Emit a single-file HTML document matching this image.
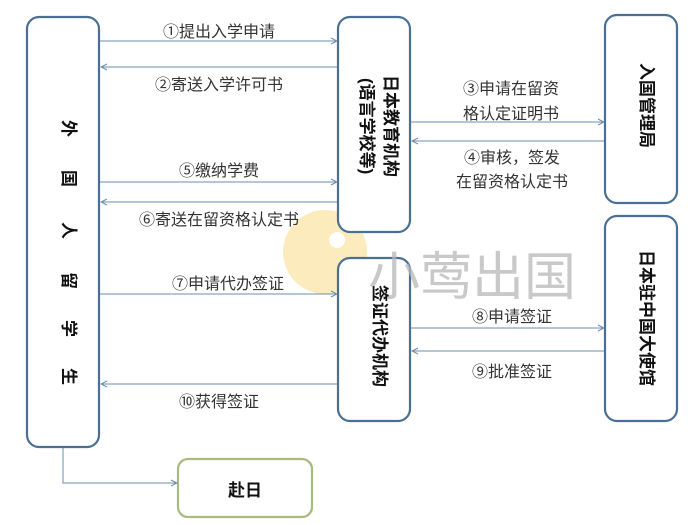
<!DOCTYPE html>
<html><head><meta charset="utf-8"><style>
body{margin:0;background:#fff;}
svg{display:block;}
text{font-family:"Liberation Sans","Noto Sans CJK SC",sans-serif;}
.lb{font-size:16px;fill:#333;text-anchor:middle;}
.bx{fill:#fff;stroke:#4a6f94;stroke-width:2.2;}
.ln{stroke:#6b8cae;stroke-width:1;fill:none;}
.vt{font-size:17px;font-weight:bold;fill:#111;writing-mode:vertical-rl;text-orientation:sideways;}
</style></head><body>
<svg width="699" height="525" viewBox="0 0 699 525">
<defs><marker id="a" markerWidth="8" markerHeight="8" refX="7" refY="4" orient="auto" markerUnits="userSpaceOnUse"><path d="M1,1 L7,4 L1,7" fill="none" stroke="#6b8cae" stroke-width="1"/></marker></defs>
<!-- watermark circle -->
<circle cx="325" cy="252" r="42" fill="#fbe7b0" opacity="0.85"/>
<circle cx="337" cy="240" r="8" fill="#fff"/>
<!-- boxes -->
<rect class="bx" x="27" y="17" width="72" height="430" rx="12"/>
<rect class="bx" x="338" y="17" width="72" height="215" rx="12"/>
<rect class="bx" x="605" y="15" width="72" height="188" rx="12"/>
<rect class="bx" x="338" y="258" width="72" height="163" rx="12"/>
<rect class="bx" x="605" y="216" width="72" height="205" rx="12"/>
<rect x="178" y="459" width="134" height="58" rx="10" fill="#fff" stroke="#a9ba7c" stroke-width="2.2"/>
<!-- watermark text -->
<text x="472" y="295" font-size="52" fill="#b8b8b8" text-anchor="middle" opacity="0.75">小莺出国</text>
<!-- box texts -->
<text x="63" y="120" class="vt">外</text>
<text x="63" y="170" class="vt">国</text>
<text x="63" y="222" class="vt">人</text>
<text x="63" y="272" class="vt">留</text>
<text x="63" y="320" class="vt">学</text>
<text x="63" y="368" class="vt">生</text>
<text x="385" y="75" class="vt">日本教育机构</text>
<text x="361" y="78" class="vt">(语言学校等)</text>
<text x="641" y="63" class="vt">入国管理局</text>
<text x="374" y="285" class="vt">签证代办机构</text>
<text x="641" y="250" class="vt">日本驻中国大使馆</text>
<text x="245" y="496" font-size="17" font-weight="bold" text-anchor="middle" fill="#111">赴日</text>
<!-- arrows -->
<line class="ln" x1="100" y1="41" x2="337" y2="41" marker-end="url(#a)"/>
<line class="ln" x1="337" y1="67" x2="101" y2="67" marker-end="url(#a)"/>
<line class="ln" x1="100" y1="182" x2="337" y2="182" marker-end="url(#a)"/>
<line class="ln" x1="337" y1="202" x2="101" y2="202" marker-end="url(#a)"/>
<line class="ln" x1="100" y1="294" x2="337" y2="294" marker-end="url(#a)"/>
<line class="ln" x1="337" y1="384" x2="101" y2="384" marker-end="url(#a)"/>
<line class="ln" x1="411" y1="122" x2="604" y2="122" marker-end="url(#a)"/>
<line class="ln" x1="604" y1="141" x2="412" y2="141" marker-end="url(#a)"/>
<line class="ln" x1="411" y1="328" x2="604" y2="328" marker-end="url(#a)"/>
<line class="ln" x1="604" y1="351" x2="412" y2="351" marker-end="url(#a)"/>
<path class="ln" d="M63,448 V483 H177" marker-end="url(#a)"/>
<!-- labels -->
<text class="lb" x="219" y="37">①提出入学申请</text>
<text class="lb" x="219" y="90">②寄送入学许可书</text>
<text class="lb" x="219" y="176">⑤缴纳学费</text>
<text class="lb" x="219" y="225">⑥寄送在留资格认定书</text>
<text class="lb" x="228" y="289">⑦申请代办签证</text>
<text class="lb" x="219" y="407">⑩获得签证</text>
<text class="lb" x="511" y="94">③申请在留资</text>
<text class="lb" x="511" y="119">格认定证明书</text>
<text class="lb" x="512" y="163">④审核，签发</text>
<text class="lb" x="512" y="187">在留资格认定书</text>
<text class="lb" x="512" y="322">⑧申请签证</text>
<text class="lb" x="512" y="377">⑨批准签证</text>
</svg>
</body></html>
